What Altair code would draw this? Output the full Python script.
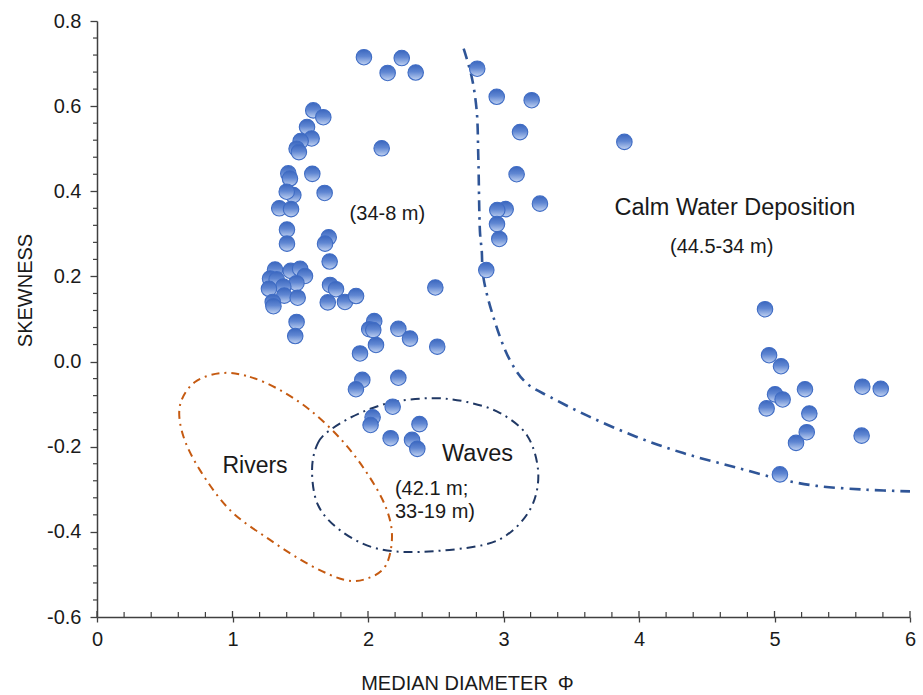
import altair as alt
import pandas as pd

# ---------------- data ----------------
pt_x = [1.97, 2.145, 2.249, 2.352, 2.806, 2.95, 3.208, 3.122, 3.892, 2.101, 3.097, 3.269,
        3.016, 2.954, 2.952, 2.969, 2.873,
        1.596, 1.67, 1.55, 1.584, 1.503, 1.473, 1.49, 1.589, 1.412, 1.424, 1.68, 1.449,
        1.40, 1.345, 1.432, 1.402, 1.402, 1.71, 1.683, 1.717, 1.314, 1.43, 1.499, 1.535,
        1.277, 1.326, 1.472, 1.375, 1.269, 1.382, 1.481, 1.297, 1.302, 1.72, 1.764, 1.703,
        1.83, 1.912, 2.497, 1.473, 1.463,
        2.046, 2.009, 2.039, 2.224, 2.31, 2.059, 2.511, 1.941, 1.958, 1.911, 2.224, 2.182,
        2.034, 2.019, 2.38, 2.167, 2.325, 2.364,
        4.93, 4.96, 5.048, 5.225, 5.648, 5.784, 5.004, 5.06, 4.942, 5.257, 5.238, 5.159,
        5.643, 5.04]
pt_y = [0.715, 0.678, 0.713, 0.679, 0.688, 0.622, 0.614, 0.539, 0.516, 0.501, 0.44, 0.371,
        0.358, 0.356, 0.323, 0.288, 0.215,
        0.59, 0.574, 0.551, 0.524, 0.518, 0.50, 0.492, 0.441, 0.442, 0.43, 0.396, 0.391,
        0.399, 0.36, 0.358, 0.31, 0.277, 0.292, 0.277, 0.235, 0.216, 0.213, 0.218, 0.201,
        0.195, 0.193, 0.184, 0.176, 0.171, 0.155, 0.15, 0.14, 0.13, 0.18, 0.17, 0.139,
        0.14, 0.154, 0.174, 0.093, 0.06,
        0.095, 0.076, 0.074, 0.077, 0.054, 0.039, 0.035, 0.019, -0.043, -0.065, -0.038, -0.106,
        -0.131, -0.149, -0.147, -0.18, -0.184, -0.205,
        0.123, 0.015, -0.011, -0.065, -0.059, -0.064, -0.077, -0.089, -0.11, -0.122, -0.166, -0.191,
        -0.174, -0.265]

calm_x = [2.706, 2.765, 2.802, 2.814, 2.827, 2.839, 2.851, 2.925, 3.048, 3.171, 3.343, 3.638,
          3.983, 4.327, 4.696, 5.065, 5.311, 5.68, 6.0]
calm_y = [0.735, 0.669, 0.590, 0.481, 0.301, 0.262, 0.199, 0.105, 0.003, -0.051, -0.083, -0.130,
          -0.177, -0.215, -0.247, -0.278, -0.292, -0.301, -0.305]

rivers_x = [0.923, 1.129, 1.351, 1.572, 1.793, 1.978, 2.125, 2.177, 2.133, 2.0, 1.830, 1.572,
            1.277, 0.982, 0.760, 0.635, 0.613, 0.723]
rivers_y = [-0.027, -0.036, -0.067, -0.114, -0.180, -0.255, -0.337, -0.408, -0.478, -0.509,
            -0.513, -0.478, -0.419, -0.349, -0.255, -0.173, -0.102, -0.048]

waves_x = [1.587, 1.631, 1.742, 1.941, 2.185, 2.480, 2.731, 2.975, 3.173, 3.255, 3.218, 3.070,
           2.849, 2.384, 2.052, 1.793, 1.631]
waves_y = [-0.255, -0.191, -0.156, -0.121, -0.095, -0.086, -0.095, -0.121, -0.173, -0.255,
           -0.333, -0.396, -0.431, -0.447, -0.438, -0.396, -0.337]

x_ticks = [0, 1, 2, 3, 4, 5, 6]
y_ticks = [-0.6, -0.4, -0.2, 0.0, 0.2, 0.4, 0.6, 0.8]

x_title = "MEDIAN DIAMETER\u2002\u03a6"
y_title = "SKEWNESS"

# ---------------- layout ----------------
W, H = 813, 596
FONT = "Liberation Sans"
AX = "#404040"
TXT = "#1a1a1a"

xs = alt.Scale(domain=[0, 6], nice=False, zero=False)
ys = alt.Scale(domain=[-0.6, 0.8], nice=False, zero=False)

x_minor = [round(0.2 * i, 1) for i in range(31) if i % 5 != 0]
y_minor = [round(-0.6 + 0.04 * i, 2) for i in range(36) if i % 5 != 0]

pts = pd.DataFrame({"x": pt_x, "y": pt_y})
calm = pd.DataFrame({"x": calm_x, "y": calm_y, "o": list(range(len(calm_x)))})
rivers = pd.DataFrame({"x": rivers_x, "y": rivers_y, "o": list(range(len(rivers_x)))})
waves = pd.DataFrame({"x": waves_x, "y": waves_y, "o": list(range(len(waves_x)))})

xaxis = alt.Axis(values=x_ticks, format="d", title=x_title, grid=False,
                 domainColor=AX, domainWidth=1.5, tickColor=AX, tickWidth=1.3, tickSize=5,
                 labelFont=FONT, labelFontSize=20, labelColor=TXT, labelPadding=7,
                 labelFlush=False, labelOverlap=False,
                 titleFont=FONT, titleFontSize=20, titleFontWeight="normal", titleColor=TXT,
                 titleX=370, titleY=72, titleAlign="center", titleBaseline="alphabetic")
yaxis = alt.Axis(values=y_ticks, title=y_title, grid=False,
                 labelExpr="replace(format(datum.value, '.1f'), '\u2212', '-')",
                 domainColor=AX, domainWidth=1.5, tickColor=AX, tickWidth=1.3, tickSize=7,
                 labelFont=FONT, labelFontSize=20, labelColor=TXT, labelPadding=9,
                 labelFlush=False, labelOverlap=False,
                 titleFont=FONT, titleFontSize=20, titleFontWeight="normal", titleColor=TXT,
                 titleAngle=270, titleX=-72, titleY=269, titleAlign="center",
                 titleBaseline="middle")


def X(field=None, datum=None):
    if datum is not None:
        return alt.X(datum=datum, type="quantitative", scale=xs, axis=xaxis)
    return alt.X(field, type="quantitative", scale=xs, axis=xaxis)


def Y(field=None, datum=None):
    if datum is not None:
        return alt.Y(datum=datum, type="quantitative", scale=ys, axis=yaxis)
    return alt.Y(field, type="quantitative", scale=ys, axis=yaxis)


grad = alt.LinearGradient(
    gradient="linear",
    stops=[alt.GradientStop(color="#3A66BE", offset=0),
           alt.GradientStop(color="#5F86D2", offset=0.45),
           alt.GradientStop(color="#C2D3F2", offset=1)],
    x1=0, x2=0, y1=0, y2=1)

calm_line = alt.Chart(calm).mark_line(
    color="#2F5597", strokeWidth=2.6, strokeDash=[11, 6, 2.5, 6], interpolate="catmull-rom"
).encode(x=X("x"), y=Y("y"), order="o:Q")

rivers_line = alt.Chart(rivers).mark_line(
    color="#C55A11", strokeWidth=2, strokeDash=[8, 5, 2, 5], interpolate="cardinal-closed"
).encode(x=X("x"), y=Y("y"), order="o:Q")

waves_line = alt.Chart(waves).mark_line(
    color="#203864", strokeWidth=2, strokeDash=[9, 5, 2, 5], interpolate="cardinal-closed"
).encode(x=X("x"), y=Y("y"), order="o:Q")

points = alt.Chart(pts).mark_point(
    shape="circle", filled=True, size=240, fill=grad, stroke="#3F6CC4", strokeWidth=1.1,
    opacity=1, fillOpacity=1, strokeOpacity=1
).encode(x=X("x"), y=Y("y"))

one = pd.DataFrame({"k": [0]})


def label(txt, x, y, size, align="center"):
    return alt.Chart(one).mark_text(
        text=txt, font=FONT, fontSize=size, color=TXT, align=align, baseline="alphabetic"
    ).encode(x=X(datum=x), y=Y(datum=y))


labels = [
    label("(34-8 m)", 2.143, 0.332, 20),
    label("Calm Water Deposition", 4.708, 0.344, 23.5),
    label("(44.5-34 m)", 4.61, 0.255, 20),
    label("Rivers", 1.166, -0.262, 23),
    label("Waves", 2.808, -0.233, 23.5),
    label("(42.1 m;", 2.199, -0.313, 20, "left"),
    label("33-19 m)", 2.199, -0.368, 20, "left"),
]

y_minor_ticks = alt.Chart(pd.DataFrame({"y": y_minor})).mark_rule(
    color=AX, strokeWidth=1.2
).encode(y=Y("y"), x=alt.value(-4), x2=alt.value(0))

x_minor_ticks = alt.Chart(pd.DataFrame({"x": x_minor})).mark_rule(
    color=AX, strokeWidth=1.2
).encode(x=X("x"), y=alt.value(H - 5), y2=alt.value(H))

x_major_in = alt.Chart(pd.DataFrame({"x": x_ticks})).mark_rule(
    color=AX, strokeWidth=1.3
).encode(x=X("x"), y=alt.value(H - 6), y2=alt.value(H))

chart = alt.layer(
    calm_line, rivers_line, waves_line, points, *labels,
    y_minor_ticks, x_minor_ticks, x_major_in
).properties(
    width=W, height=H,
    autosize=alt.AutoSizeParams(type="none"),
    padding={"left": 97, "top": 21, "right": 13, "bottom": 78},
    background="white"
).configure_view(stroke=None)

chart.save("out.html", embed_options={"renderer": "svg", "actions": False})
